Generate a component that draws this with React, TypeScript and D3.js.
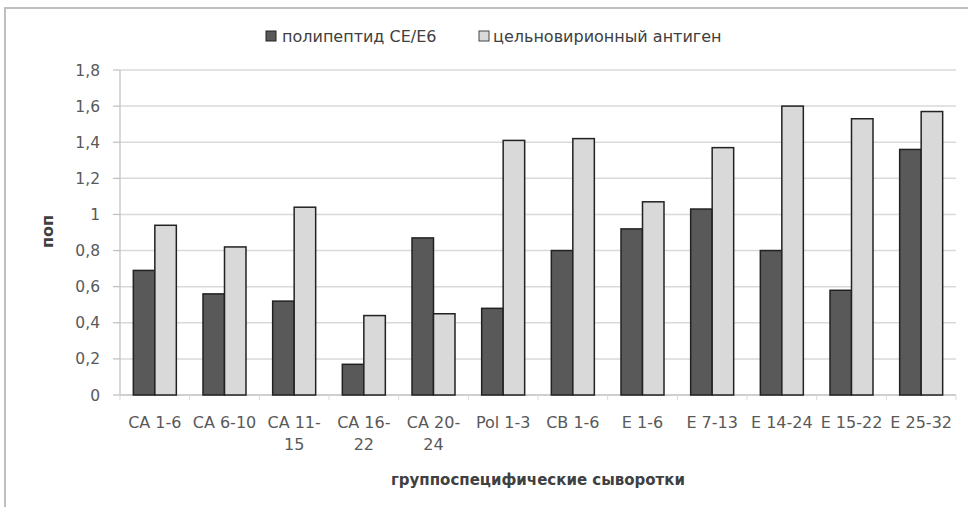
import React from "react";
import * as d3 from "d3";

const categories = ["CA 1-6", "CA 6-10", "CA 11-15", "CA 16-22", "CA 20-24", "Pol 1-3", "CB 1-6", "E 1-6", "E 7-13", "E 14-24", "E 15-22", "E 25-32"];
const seriesNames = ["полипептид CE/E6", "цельновирионный антиген"];
const polypeptide = [0.69, 0.56, 0.52, 0.17, 0.87, 0.48, 0.8, 0.92, 1.03, 0.8, 0.58, 1.36];
const wholeVirion = [0.94, 0.82, 1.04, 0.44, 0.45, 1.41, 1.42, 1.07, 1.37, 1.6, 1.53, 1.57];
const yTicks = [0, 0.2, 0.4, 0.6, 0.8, 1, 1.2, 1.4, 1.6, 1.8];
const yTitle = "поп";
const xTitle = "группоспецифические сыворотки";

const W = 968, H = 507;
const M = { left: 120, right: 12, top: 70, bottom: 112 };
const FONT = "'DejaVu Sans', 'Liberation Sans', sans-serif";
const fills = ["#595959", "#d9d9d9"];

function fmt(v: number) {
  return (Math.round(v * 10) / 10).toString().replace(".", ",");
}
function wrap(label: string): string[] {
  if (label.length >= 8 && label.includes("-")) {
    const i = label.indexOf("-");
    return [label.slice(0, i + 1), label.slice(i + 1)];
  }
  return [label];
}

export default function App() {
  const x0 = d3.scaleBand<string>().domain(categories).range([M.left, W - M.right]).padding(0);
  const x1 = d3.scaleBand<string>().domain(seriesNames).range([0, x0.bandwidth()]).paddingInner(0).paddingOuter(0.62);
  const y = d3.scaleLinear().domain([0, 1.8]).range([H - M.bottom, M.top]);
  const series = [polypeptide, wholeVirion];
  const y0 = y(0);

  return (
    <svg width={W} height={H} style={{ position: "absolute", left: 0, top: 0, background: "#fff" }} fontFamily={FONT}>
      {/* frame */}
      <path d={`M5,${H} L5,8 L${W},8`} fill="none" stroke="#bfbfbf" strokeWidth={2} />
      {/* gridlines */}
      {yTicks.map((t) => (
        <g key={t}>
          <line x1={M.left} x2={W - M.right} y1={y(t)} y2={y(t)} stroke={t === 0 ? "#bfbfbf" : "#d9d9d9"} strokeWidth={1.5} />
          <line x1={M.left - 7} x2={M.left} y1={y(t)} y2={y(t)} stroke="#bfbfbf" strokeWidth={1.2} />
          <text x={100} y={y(t)} dy="0.36em" textAnchor="end" fontSize={15.5} fill="#595959">{fmt(t)}</text>
        </g>
      ))}
      <line x1={M.left} x2={M.left} y1={y(1.8)} y2={y0} stroke="#bfbfbf" strokeWidth={1.2} />
      {/* x ticks */}
      {categories.map((c) => (
        <line key={"t" + c} x1={x0(c)!} x2={x0(c)!} y1={y0} y2={y0 + 5} stroke="#d9d9d9" strokeWidth={1} />
      ))}
      <line x1={W - M.right} x2={W - M.right} y1={y0} y2={y0 + 5} stroke="#d9d9d9" strokeWidth={1} />
      {/* bars */}
      {categories.map((c, i) => (
        <g key={c} transform={`translate(${x0(c)},0)`}>
          {seriesNames.map((s, k) => (
            <rect key={s} x={x1(s)!} y={y(series[k][i])} width={x1.bandwidth()} height={y0 - y(series[k][i])}
              fill={fills[k]} stroke="#222" strokeWidth={1.5} />
          ))}
        </g>
      ))}
      {/* category labels */}
      {categories.map((c) => (
        <text key={"l" + c} x={x0(c)! + x0.bandwidth() / 2} y={428} textAnchor="middle" fontSize={16} fill="#595959">
          {wrap(c).map((ln, j) => (
            <tspan key={j} x={x0(c)! + x0.bandwidth() / 2} dy={j === 0 ? 0 : 22}>{ln}</tspan>
          ))}
        </text>
      ))}
      {/* y title */}
      <text transform={`translate(53,${(y(0) + y(1.8)) / 2 - 1}) rotate(-90)`} textAnchor="middle" fontSize={16} fontWeight="bold" fill="#404040">{yTitle}</text>
      {/* x title */}
      <text x={538} y={485} textAnchor="middle" fontSize={15} fontWeight="bold" fill="#404040">{xTitle}</text>
      {/* legend */}
      <g fontSize={16} fill="#404040">
        <rect x={266} y={31} width={10} height={10} fill={fills[0]} stroke="#222" strokeWidth={1} />
        <text x={282} y={36} dy="0.36em">{seriesNames[0]}</text>
        <rect x={479} y={31} width={10} height={10} fill={fills[1]} stroke="#444" strokeWidth={1} />
        <text x={493} y={36} dy="0.36em">{seriesNames[1]}</text>
      </g>
    </svg>
  );
}
